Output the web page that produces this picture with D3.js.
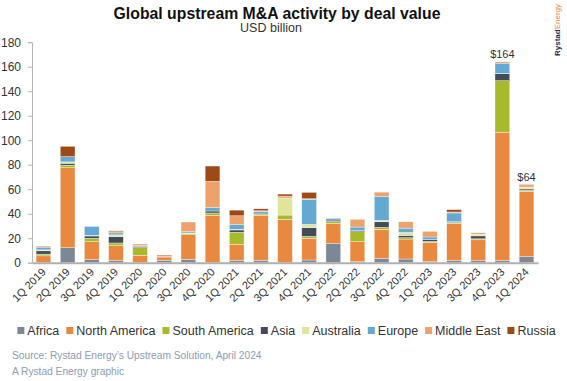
<!DOCTYPE html>
<html><head><meta charset="utf-8">
<script src="https://cdn.jsdelivr.net/npm/d3@7"></script>
<style>
html,body{margin:0;padding:0;background:#fff;}
svg{display:block;font-family:"Liberation Sans",Arial,sans-serif;}
</style></head>
<body><svg id="chart" width="567" height="381"></svg>
<script>
const quarters = ["1Q 2019","2Q 2019","3Q 2019","4Q 2019","1Q 2020","2Q 2020","3Q 2020","4Q 2020","1Q 2021","2Q 2021","3Q 2021","4Q 2021","1Q 2022","2Q 2022","3Q 2022","4Q 2022","1Q 2023","2Q 2023","3Q 2023","4Q 2023","1Q 2024"];
const africa       = [0.3,12.2,2.5,1.9,0.2,1.9,2.7,0.3,1.9,1.9,0.3,2.2,15.5,0.8,3.5,3.0,0.8,1.9,1.6,1.9,4.9];
const northAmerica = [5.3,65.3,14.7,12.0,5.7,2.7,20.1,38.4,13.1,36.7,35.1,17.7,16.6,16.3,23.7,16.3,15.8,30.2,17.1,104.5,53.4];
const southAmerica = [1.4,2.1,2.7,2.2,6.5,0,1.0,1.9,9.8,1.1,3.5,1.6,1.6,8.2,1.6,1.1,0.8,0.8,0.8,42.2,0.9];
const asia         = [2.7,1.6,1.9,5.2,1.0,0.3,0,1.6,1.9,0.8,0,7.1,1.1,1.1,4.6,1.9,1.4,0.6,2.4,5.7,1.0];
const australia    = [0.8,1.1,0.5,1.4,0,0,0.5,0,0.5,0,13.9,2.7,0,0,1.1,2.4,0,0,1.4,0.2,1.6];
const europe       = [2.2,4.3,7.3,1.6,0.5,0,1.0,2.7,3.8,1.4,0,20.4,1.4,2.7,19.6,3.5,2.2,7.1,0,8.4,0];
const middleEast   = [0.9,0,0,1.0,1.4,0.8,7.9,21.5,7.3,0.5,1.6,0.5,0,6.3,3.5,5.2,4.6,0.8,1.1,1.1,1.1];
const russia       = [0,8.4,0,0.7,0,0.6,0,12.5,4.6,1.6,1.6,5.2,0,0,0,0,0,1.9,0,0,0.8];
const regions = ["Africa","North America","South America","Asia","Australia","Europe","Middle East","Russia"];
const regionColors = ["#7b8898","#e8893f","#a8b92b","#434b5b","#dfe69a","#63a9d1","#eda26c","#9d4a16"];
const yTicks = [0,20,40,60,80,100,120,140,160,180];
const annotated = ["4Q 2023","1Q 2024"];

const seriesArrays = [africa,northAmerica,southAmerica,asia,australia,europe,middleEast,russia];
const rows = quarters.map((q,i)=>{
  const r = {quarter:q};
  regions.forEach((name,k)=>{ r[name] = seriesArrays[k][i]; });
  return r;
});

const svg = d3.select("#chart");
const x = d3.scaleBand().domain(quarters).range([32,538]).paddingInner(0.39).paddingOuter(0.17);
const y = d3.scaleLinear().domain([0,180]).range([262.7,42.2]);

const stack = d3.stack().keys(regions);
const stacked = stack(rows);
const color = d3.scaleOrdinal().domain(regions).range(regionColors);

// bars
svg.append("g").selectAll("g").data(stacked).join("g")
  .attr("fill", d=>color(d.key))
  .selectAll("rect").data(d=>d).join("rect")
  .attr("x", d=>x(d.data.quarter))
  .attr("width", x.bandwidth())
  .attr("y", d=>y(d[1]))
  .attr("height", d=>Math.max(0, y(d[0]) - y(d[1])))
  .attr("stroke","#fff").attr("stroke-width",0.5).attr("stroke-opacity",0.7);

// y axis
const yAxis = d3.axisLeft(y).tickValues(yTicks).tickSize(4).tickPadding(7);
const gy = svg.append("g").attr("transform","translate(32,0)").call(yAxis);
gy.select(".domain").attr("stroke","#b5b5b5");
gy.selectAll(".tick line").attr("stroke","#b5b5b5");
gy.selectAll(".tick text").attr("font-size",12).attr("fill","#333").attr("font-family","Liberation Sans, Arial, sans-serif");

// x axis baseline + labels
const xAxis = d3.axisBottom(x).tickSize(0).tickPadding(0);
const gx = svg.append("g").attr("transform",`translate(0,${y(0)})`).call(xAxis);
gx.select(".domain").attr("stroke","#b0b0b0").attr("stroke-width",2);
gx.selectAll(".tick text")
  .attr("font-size",11).attr("fill","#333").attr("font-family","Liberation Sans, Arial, sans-serif")
  .attr("text-anchor","end").attr("dy",0)
  .attr("transform","translate(3,10) rotate(-45)");

// total labels
svg.append("g").selectAll("text").data(rows.filter(r=>annotated.includes(r.quarter))).join("text")
  .attr("x", d=>x(d.quarter)+x.bandwidth()/2)
  .attr("y", d=>y(d3.sum(regions,k=>d[k]))-4)
  .attr("text-anchor","middle").attr("font-size",11).attr("fill","#333")
  .text(d=>"$"+Math.round(d3.sum(regions,k=>d[k])));

// title
svg.append("text").attr("x",277).attr("y",19).attr("text-anchor","middle")
  .attr("font-size",15.8).attr("font-weight","bold").attr("fill","#111")
  .text("Global upstream M&A activity by deal value");
svg.append("text").attr("x",271).attr("y",32).attr("text-anchor","middle")
  .attr("font-size",12.5).attr("fill","#333").text("USD billion");

// logo
const logo = svg.append("text").attr("transform","translate(560,56) rotate(-90)")
  .attr("font-size",8).attr("font-weight","bold");
logo.append("tspan").attr("fill","#1f2a44").text("Rystad");
logo.append("tspan").attr("fill","#e8893f").attr("font-weight","normal").text("Energy");

// legend
const lg = svg.append("g");
let cx = 0;
regions.forEach((name,k)=>{
  const item = lg.append("g").attr("transform",`translate(${cx},0)`);
  item.append("rect").attr("x",0).attr("y",-4).attr("width",7).attr("height",7).attr("fill",regionColors[k]);
  const t = item.append("text").attr("x",10).attr("y",4).attr("font-size",12.5).attr("fill","#333").text(name);
  cx += 10 + t.node().getComputedTextLength() + 7;
});
const lw = cx - 7;
lg.attr("transform",`translate(${(567-lw)/2+3},331)`);

// source
svg.append("text").attr("x",12).attr("y",359).attr("font-size",10.2).attr("fill","#8d9cb4")
  .text("Source: Rystad Energy\u2019s Upstream Solution, April 2024");
svg.append("text").attr("x",12).attr("y",375).attr("font-size",10.2).attr("fill","#8d9cb4")
  .text("A Rystad Energy graphic");
</script>
</body></html>
